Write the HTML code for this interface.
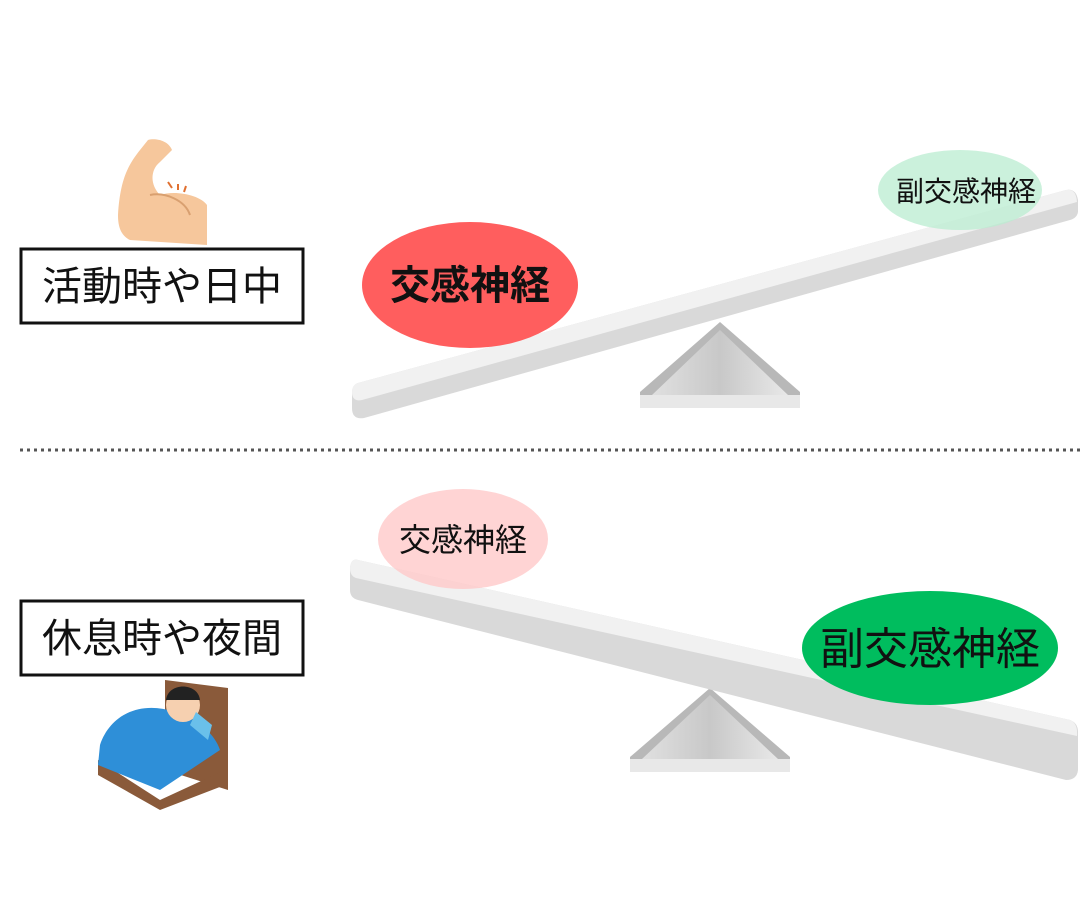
<!DOCTYPE html>
<html><head><meta charset="utf-8"><style>
html,body{margin:0;padding:0;background:#fff;}
svg{display:block}
text{font-family:"Liberation Sans","Noto Sans CJK JP",sans-serif;}
</style></head><body>
<svg width="1080" height="900" viewBox="0 0 1080 900" xmlns="http://www.w3.org/2000/svg">
<defs>
<linearGradient id="tr" x1="0" y1="0" x2="1" y2="0">
<stop offset="0" stop-color="#e0e0e0"/><stop offset="0.5" stop-color="#c8c8c8"/><stop offset="1" stop-color="#e8e8e8"/>
</linearGradient>
</defs>

<!-- top fulcrum -->
<polygon points="720,322 640,392 640,408 800,408 800,392" fill="#b8b8b8"/>
<polygon points="720,330 652,395 788,395" fill="url(#tr)"/>
<polygon points="640,395 800,395 800,408 640,408" fill="#e8e8e8"/>
<!-- top plank -->
<path d="M358,383 L1066,190 Q1076,188 1078,200 L1078,212 Q1077,218 1070,220 L364,418 Q352,420 352,408 L352,393 Q352,385 358,383 Z" fill="#d9d9d9"/>
<path d="M358,383 L1066,190 Q1076,188 1077,202 L362,400 Q352,402 352,392 Q352,385 358,383 Z" fill="#f1f1f1"/>

<!-- bottom fulcrum -->
<polygon points="710,688 630,757 630,772 790,772 790,757" fill="#b8b8b8"/>
<polygon points="710,695 642,759 778,759" fill="url(#tr)"/>
<polygon points="630,759 790,759 790,772 630,772" fill="#e8e8e8"/>
<!-- bottom plank -->
<path d="M358,560 L1070,720 Q1078,723 1078,732 L1078,770 Q1077,780 1066,780 L358,600 Q350,598 350,590 L350,568 Q351,558 358,560 Z" fill="#d9d9d9"/>
<path d="M358,560 L1070,720 Q1078,723 1077,736 L356,578 Q350,576 350,568 Q351,558 358,560 Z" fill="#f1f1f1"/>

<!-- ellipses -->
<ellipse cx="470" cy="285" rx="108" ry="63" fill="#ff5555" fill-opacity="0.95"/>
<text x="470" y="299" font-size="40" font-weight="bold" text-anchor="middle" fill="#111">交感神経</text>
<ellipse cx="960" cy="190" rx="82" ry="40" fill="#b9ecd0" fill-opacity="0.75"/>
<text x="966" y="201" font-size="28" text-anchor="middle" fill="#111">副交感神経</text>
<ellipse cx="463" cy="539" rx="85" ry="50" fill="#ffc6c6" fill-opacity="0.75"/>
<text x="463" y="551" font-size="32" text-anchor="middle" fill="#111">交感神経</text>
<ellipse cx="930" cy="648" rx="128" ry="57" fill="#00bd5e"/>
<text x="930" y="664" font-size="44" text-anchor="middle" fill="#111">副交感神経</text>

<!-- labels -->
<rect x="21" y="249" width="282" height="74" fill="#fff" stroke="#111" stroke-width="3"/>
<text x="162" y="300" font-size="40" text-anchor="middle" fill="#111">活動時や日中</text>
<rect x="21" y="601" width="282" height="74" fill="#fff" stroke="#111" stroke-width="3"/>
<text x="162" y="652" font-size="40" text-anchor="middle" fill="#111">休息時や夜間</text>

<!-- dotted line -->
<line x1="20" y1="450" x2="1080" y2="450" stroke="#555" stroke-width="3" stroke-dasharray="3,4"/>

<!-- arm -->
<path d="M118,215 C120,180 128,165 140,150 L148,140 C155,138 168,140 172,150 L160,162 C150,170 150,185 160,195 C175,190 200,195 207,205 L207,245 L130,240 C120,235 118,225 118,215 Z" fill="#f6c79c"/>
<path d="M150,195 C165,192 185,200 190,215" fill="none" stroke="#d9a070" stroke-width="2"/>
<path d="M168,182 L172,188 M178,184 L178,190 M186,186 L184,192" stroke="#e07030" stroke-width="2"/>

<!-- bed -->
<polygon points="165,680 228,688 228,790 165,770" fill="#8a5a3a"/>
<polygon points="98,760 160,800 225,770 225,785 160,810 98,775" fill="#8a5a3a"/>
<path d="M100,745 C110,715 140,700 175,712 C200,720 215,735 220,750 L160,790 L98,765 Z" fill="#2e8fd8"/>
<circle cx="183" cy="705" r="17" fill="#f6d0b0"/>
<path d="M166,700 C168,682 198,682 200,700 Z" fill="#222"/>
<path d="M196,712 L212,725 L208,740 L190,725 Z" fill="#6ac0ea"/>
</svg>
</body></html>
